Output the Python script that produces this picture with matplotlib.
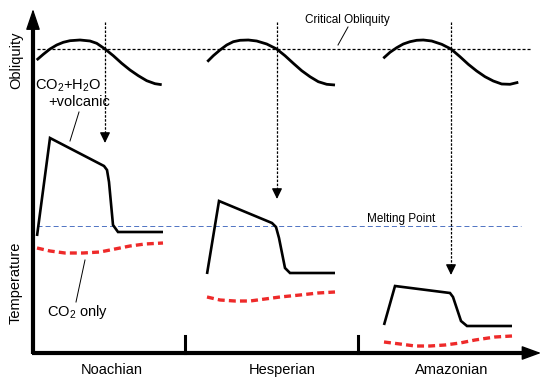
import numpy as np
import matplotlib
matplotlib.use('Agg')
from matplotlib import pyplot as plt

plt.rcParams['font.family'] = ['Liberation Sans', 'DejaVu Sans']
plt.rcParams['mathtext.fontset'] = 'custom'
plt.rcParams['mathtext.rm'] = 'Liberation Sans'
plt.rcParams['mathtext.default'] = 'rm'
plt.rcParams['lines.scale_dashes'] = False

# schematic diagram, drawn in picture units (x right, y down)
periods = ['Noachian', 'Hesperian', 'Amazonian']
period_x = [112, 282, 452]
period_bounds = [185, 358]

# obliquity oscillations
noach_obl_x = [36.7, 43.3, 50, 56.7, 63.3, 70, 80, 90, 96.7, 105, 113.3, 121.7,
               130, 138.3, 146.7, 155, 161.7]
noach_obl_y = [60, 54.3, 49, 45, 42.3, 40.7, 40, 41, 43.3, 49, 55.7, 63.3,
               70, 75.7, 80.7, 83.7, 84.7]
hesp_obl_x = [207.3, 213.3, 220, 226.7, 233.3, 240, 248.3, 256.7, 266.7, 276.7,
              285, 293.3, 301.7, 310, 318.3, 326.7, 335]
hesp_obl_y = [61.7, 55.7, 50, 45, 41.7, 40.3, 40, 41, 44, 49,
              55.7, 63.3, 70.7, 76.7, 81.7, 84.3, 85]
amaz_obl_x = [383.3, 390, 396.7, 403.3, 410, 416.7, 423.3, 431.7, 441.7, 451,
              460, 468.3, 476.7, 485, 493.3, 501.7, 510, 518.3]
amaz_obl_y = [58.3, 52.3, 47.7, 44, 41.7, 40.3, 40, 41, 44.3, 49,
              56.7, 64.3, 71, 76.7, 81, 84, 84.3, 82.3]
critical_obliquity = 49

# temperature, CO2 + H2O + volcanic
noach_volc_x = [37, 50, 104, 107, 109, 113, 118, 163]
noach_volc_y = [236, 138, 166, 170, 182, 225, 232, 232]
hesp_volc_x = [207, 219, 272, 276, 279, 285, 290, 335]
hesp_volc_y = [274, 201, 223, 227, 238, 268, 273, 273]
amaz_volc_x = [384, 395, 450, 453, 456, 461, 467, 512]
amaz_volc_y = [325, 286, 293, 297, 306, 321, 326, 326]

# temperature, CO2 only
noach_co2_x = [37, 50, 65, 83, 100, 115, 130, 145, 163]
noach_co2_y = [248, 251, 253, 253, 252, 249, 246, 244, 243]
hesp_co2_x = [207, 220, 235, 250, 265, 280, 300, 318, 335]
hesp_co2_y = [297, 300, 301, 301, 299, 297, 295, 293, 292]
amaz_co2_x = [384, 400, 415, 430, 445, 460, 475, 495, 512]
amaz_co2_y = [342, 344, 346, 346, 345, 343, 340, 337, 336]
melting_point = 226

# obliquity crossing -> temperature peak
arrow_x = [105, 277, 451]
arrow_tip = [143, 199, 275]

fig = plt.figure(figsize=(5.41, 3.79), dpi=100)
ax = fig.add_axes([0, 0, 1, 1])
ax.set_xlim(0, 541)
ax.set_ylim(379, 0)
ax.axis('off')

# axes with arrow heads
ax.plot([33, 33], [354, 24], color='k', lw=3.0, solid_capstyle='butt')
ax.annotate('', xy=(33, 9), xytext=(33, 30),
            arrowprops=dict(arrowstyle='-|>,head_length=0.65,head_width=0.22',
                            mutation_scale=20, color='k', lw=1, shrinkA=0, shrinkB=0))
ax.plot([32, 526], [353, 353], color='k', lw=3.0, solid_capstyle='butt')
ax.annotate('', xy=(541, 353), xytext=(520, 353),
            arrowprops=dict(arrowstyle='-|>,head_length=0.6,head_width=0.22',
                            mutation_scale=20, color='k', lw=1, shrinkA=0, shrinkB=0))
for bx in period_bounds:
    ax.plot([bx, bx], [353, 336], color='k', lw=2.2)

for name, px in zip(periods, period_x):
    ax.text(px, 370, name, ha='center', va='center', fontsize=10.5)

ax.text(16, 60, 'Obliquity', rotation=90, ha='center', va='center', fontsize=10.5)
ax.text(16, 283, 'Temperature', rotation=90, ha='center', va='center', fontsize=10.5)

# reference lines
ax.plot([37, 532], [critical_obliquity, critical_obliquity], color='k', lw=0.9,
        dashes=(2.2, 1.4))
ax.plot([37, 521], [melting_point, melting_point], color='#4f73c3', lw=0.7,
        dashes=(3.6, 2.2))

for ox, oy in [(noach_obl_x, noach_obl_y), (hesp_obl_x, hesp_obl_y), (amaz_obl_x, amaz_obl_y)]:
    ax.plot(ox, oy, color='k', lw=2.0, solid_joinstyle='round', solid_capstyle='butt')

for vx, vy in [(noach_volc_x, noach_volc_y), (hesp_volc_x, hesp_volc_y), (amaz_volc_x, amaz_volc_y)]:
    ax.plot(vx, vy, color='k', lw=1.9, solid_joinstyle='miter', solid_capstyle='butt')

for cx, cy in [(noach_co2_x, noach_co2_y), (hesp_co2_x, hesp_co2_y), (amaz_co2_x, amaz_co2_y)]:
    ax.plot(cx, cy, color='#ee2a2a', lw=2.4, dashes=(5, 3))

for axx, tip in zip(arrow_x, arrow_tip):
    ax.plot([axx, axx], [22, tip - 6], color='k', lw=0.9, dashes=(1.8, 1.1))
    ax.annotate('', xy=(axx, tip), xytext=(axx, tip - 9),
                arrowprops=dict(arrowstyle='-|>,head_length=0.45,head_width=0.22',
                                mutation_scale=14, color='k', lw=0.9,
                                shrinkA=0, shrinkB=0))

# annotations
ax.text(347, 20, 'Critical Obliquity', ha='center', va='center', fontsize=8.5)
ax.plot([348, 338], [27, 45], color='k', lw=0.7)
ax.text(401, 219, 'Melting Point', ha='center', va='center', fontsize=8.5)

ax.text(68, 86, 'CO$_2$+H$_2$O', ha='center', va='center', fontsize=10.5)
ax.text(79, 102, '+volcanic', ha='center', va='center', fontsize=10.5)
ax.plot([79, 70], [112, 141], color='k', lw=0.7)

ax.text(78, 312, 'CO$_2$ only', ha='center', va='center', fontsize=10.5)
ax.plot([85, 76], [260, 302], color='k', lw=0.7)

fig.savefig('out.png', dpi=100)
